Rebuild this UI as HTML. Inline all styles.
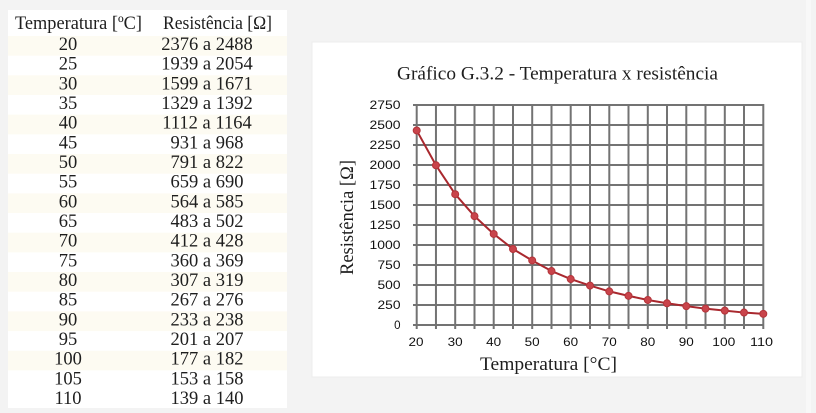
<!DOCTYPE html>
<html>
<head>
<meta charset="utf-8">
<style>
  html,body{margin:0;padding:0;background:#f3f3f3;}
  svg{display:block;}
  .t{font-family:"Liberation Serif",serif;fill:#1e1e1e;}
  .s{font-family:"Liberation Sans",sans-serif;fill:#111111;font-size:11.5px;}
</style>
</head>
<body>
<svg width="816" height="413" viewBox="0 0 816 413" xmlns="http://www.w3.org/2000/svg">
  <rect x="0" y="0" width="816" height="413" fill="#f3f3f3"/>
  <rect x="806" y="0" width="5" height="413" fill="#f8f8f8"/>

  <!-- TABLE -->
  <rect x="8" y="10" width="279" height="398" fill="#ffffff"/>
  <g fill="#fdfbf2">
    <rect x="8" y="36" width="279" height="19.67"/>
    <rect x="8" y="75.34" width="279" height="19.67"/>
    <rect x="8" y="114.68" width="279" height="19.67"/>
    <rect x="8" y="154.02" width="279" height="19.67"/>
    <rect x="8" y="193.36" width="279" height="19.67"/>
    <rect x="8" y="232.7" width="279" height="19.67"/>
    <rect x="8" y="272.04" width="279" height="19.67"/>
    <rect x="8" y="311.38" width="279" height="19.67"/>
    <rect x="8" y="350.72" width="279" height="19.67"/>
  </g>
  <g class="t" font-size="18.5">
    <text x="15" y="29" textLength="127" lengthAdjust="spacingAndGlyphs">Temperatura [ºC]</text>
    <text x="163" y="29" textLength="109" lengthAdjust="spacingAndGlyphs">Resistência [Ω]</text>
  </g>
  <g class="t" font-size="18.5" text-anchor="middle">
    <text x="68" y="50">20</text><text x="207" y="50">2376 a 2488</text>
    <text x="68" y="69.67">25</text><text x="207" y="69.67">1939 a 2054</text>
    <text x="68" y="89.34">30</text><text x="207" y="89.34">1599 a 1671</text>
    <text x="68" y="109.01">35</text><text x="207" y="109.01">1329 a 1392</text>
    <text x="68" y="128.68">40</text><text x="207" y="128.68">1112 a 1164</text>
    <text x="68" y="148.35">45</text><text x="207" y="148.35">931 a 968</text>
    <text x="68" y="168.02">50</text><text x="207" y="168.02">791 a 822</text>
    <text x="68" y="187.69">55</text><text x="207" y="187.69">659 a 690</text>
    <text x="68" y="207.36">60</text><text x="207" y="207.36">564 a 585</text>
    <text x="68" y="227.03">65</text><text x="207" y="227.03">483 a 502</text>
    <text x="68" y="246.7">70</text><text x="207" y="246.7">412 a 428</text>
    <text x="68" y="266.37">75</text><text x="207" y="266.37">360 a 369</text>
    <text x="68" y="286.04">80</text><text x="207" y="286.04">307 a 319</text>
    <text x="68" y="305.71">85</text><text x="207" y="305.71">267 a 276</text>
    <text x="68" y="325.38">90</text><text x="207" y="325.38">233 a 238</text>
    <text x="68" y="345.05">95</text><text x="207" y="345.05">201 a 207</text>
    <text x="68" y="364.72">100</text><text x="207" y="364.72">177 a 182</text>
    <text x="68" y="384.39">105</text><text x="207" y="384.39">153 a 158</text>
    <text x="68" y="404.06">110</text><text x="207" y="404.06">139 a 140</text>
  </g>

  <!-- CHART BOX -->
  <rect x="312" y="42" width="490" height="335" fill="#ffffff" stroke="#ececec" stroke-width="1"/>
  <text class="t" x="397" y="79.3" font-size="19" textLength="321" lengthAdjust="spacingAndGlyphs">Gráfico G.3.2 - Temperatura x resistência</text>

  <!-- grid -->
  <g stroke="#737373" stroke-width="2" fill="none">
    <line x1="413" y1="105" x2="763.3" y2="105"/>
    <line x1="413" y1="125" x2="763.3" y2="125"/>
    <line x1="413" y1="145" x2="763.3" y2="145"/>
    <line x1="413" y1="165" x2="763.3" y2="165"/>
    <line x1="413" y1="185" x2="763.3" y2="185"/>
    <line x1="413" y1="205" x2="763.3" y2="205"/>
    <line x1="413" y1="225" x2="763.3" y2="225"/>
    <line x1="413" y1="245" x2="763.3" y2="245"/>
    <line x1="413" y1="265" x2="763.3" y2="265"/>
    <line x1="413" y1="285" x2="763.3" y2="285"/>
    <line x1="413" y1="305" x2="763.3" y2="305"/>
    <line x1="413" y1="325" x2="763.3" y2="325"/>

    <line x1="416.7" y1="104" x2="416.7" y2="329"/>
    <line x1="435.96" y1="104" x2="435.96" y2="329"/>
    <line x1="455.2" y1="104" x2="455.2" y2="329"/>
    <line x1="474.5" y1="104" x2="474.5" y2="329"/>
    <line x1="493.7" y1="104" x2="493.7" y2="329"/>
    <line x1="513.0" y1="104" x2="513.0" y2="329"/>
    <line x1="532.2" y1="104" x2="532.2" y2="329"/>
    <line x1="551.5" y1="104" x2="551.5" y2="329"/>
    <line x1="570.7" y1="104" x2="570.7" y2="329"/>
    <line x1="590.0" y1="104" x2="590.0" y2="329"/>
    <line x1="609.3" y1="104" x2="609.3" y2="329"/>
    <line x1="628.5" y1="104" x2="628.5" y2="329"/>
    <line x1="647.8" y1="104" x2="647.8" y2="329"/>
    <line x1="667.0" y1="104" x2="667.0" y2="329"/>
    <line x1="686.3" y1="104" x2="686.3" y2="329"/>
    <line x1="705.5" y1="104" x2="705.5" y2="329"/>
    <line x1="724.8" y1="104" x2="724.8" y2="329"/>
    <line x1="744.0" y1="104" x2="744.0" y2="329"/>
    <line x1="763.3" y1="104" x2="763.3" y2="329"/>
  </g>

  <!-- y tick labels -->
  <g class="s" text-anchor="end">
    <text x="400.5" y="109" textLength="31" lengthAdjust="spacingAndGlyphs">2750</text>
    <text x="400.5" y="129" textLength="31" lengthAdjust="spacingAndGlyphs">2500</text>
    <text x="400.5" y="149" textLength="31" lengthAdjust="spacingAndGlyphs">2250</text>
    <text x="400.5" y="169" textLength="31" lengthAdjust="spacingAndGlyphs">2000</text>
    <text x="400.5" y="189" textLength="31" lengthAdjust="spacingAndGlyphs">1750</text>
    <text x="400.5" y="209" textLength="31" lengthAdjust="spacingAndGlyphs">1500</text>
    <text x="400.5" y="229" textLength="31" lengthAdjust="spacingAndGlyphs">1250</text>
    <text x="400.5" y="249" textLength="31" lengthAdjust="spacingAndGlyphs">1000</text>
    <text x="400.5" y="269" textLength="23" lengthAdjust="spacingAndGlyphs">750</text>
    <text x="400.5" y="289" textLength="23" lengthAdjust="spacingAndGlyphs">500</text>
    <text x="400.5" y="309" textLength="23" lengthAdjust="spacingAndGlyphs">250</text>
    <text x="400.5" y="329">0</text>
  </g>

  <!-- x tick labels -->
  <g class="s" text-anchor="middle">
    <text x="416" y="346" textLength="15" lengthAdjust="spacingAndGlyphs">20</text>
    <text x="455.2" y="346" textLength="15" lengthAdjust="spacingAndGlyphs">30</text>
    <text x="493.7" y="346" textLength="15" lengthAdjust="spacingAndGlyphs">40</text>
    <text x="532.2" y="346" textLength="15" lengthAdjust="spacingAndGlyphs">50</text>
    <text x="570.7" y="346" textLength="15" lengthAdjust="spacingAndGlyphs">60</text>
    <text x="609.3" y="346" textLength="15" lengthAdjust="spacingAndGlyphs">70</text>
    <text x="647.8" y="346" textLength="15" lengthAdjust="spacingAndGlyphs">80</text>
    <text x="686.3" y="346" textLength="15" lengthAdjust="spacingAndGlyphs">90</text>
    <text x="723.8" y="346" textLength="23" lengthAdjust="spacingAndGlyphs">100</text>
    <text x="761.5" y="346" textLength="23" lengthAdjust="spacingAndGlyphs">110</text>
  </g>

  <!-- axis titles -->
  <text class="t" x="480" y="370" font-size="19" textLength="137" lengthAdjust="spacingAndGlyphs">Temperatura [°C]</text>
  <text class="t" font-size="19" text-anchor="middle" transform="translate(353,217.5) rotate(-90)" textLength="115" lengthAdjust="spacingAndGlyphs">Resistência [Ω]</text>

  <!-- series -->
  <polyline fill="none" stroke="#a9282e" stroke-width="2" stroke-linejoin="round"
    points="416.7,130.44 435.96,165.28 455.2,194.2 474.5,216.16 493.7,233.96 513.0,249.04 532.2,260.48 551.5,271.04 570.7,279.04 590.0,285.6 609.3,291.4 628.5,295.84 647.8,299.96 667.0,303.28 686.3,306.16 705.5,308.68 724.8,310.64 744.0,312.56 763.3,313.84"/>
  <g fill="#c9444b" stroke="#b3343a" stroke-width="1">
    <circle cx="416.7" cy="130.44" r="3.5"/>
    <circle cx="435.96" cy="165.28" r="3.5"/>
    <circle cx="455.2" cy="194.2" r="3.5"/>
    <circle cx="474.5" cy="216.16" r="3.5"/>
    <circle cx="493.7" cy="233.96" r="3.5"/>
    <circle cx="513.0" cy="249.04" r="3.5"/>
    <circle cx="532.2" cy="260.48" r="3.5"/>
    <circle cx="551.5" cy="271.04" r="3.5"/>
    <circle cx="570.7" cy="279.04" r="3.5"/>
    <circle cx="590.0" cy="285.6" r="3.5"/>
    <circle cx="609.3" cy="291.4" r="3.5"/>
    <circle cx="628.5" cy="295.84" r="3.5"/>
    <circle cx="647.8" cy="299.96" r="3.5"/>
    <circle cx="667.0" cy="303.28" r="3.5"/>
    <circle cx="686.3" cy="306.16" r="3.5"/>
    <circle cx="705.5" cy="308.68" r="3.5"/>
    <circle cx="724.8" cy="310.64" r="3.5"/>
    <circle cx="744.0" cy="312.56" r="3.5"/>
    <circle cx="763.3" cy="313.84" r="3.5"/>
  </g>
</svg>
</body>
</html>
